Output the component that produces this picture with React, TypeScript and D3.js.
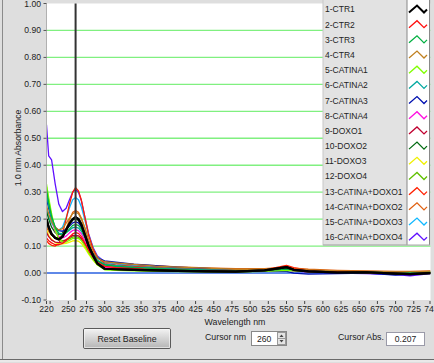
import React from "react";
import * as d3 from "d3";

const wavelengths = [220,223,227,232,237,242,247,252,256,260,264,268,273,278,284,290,300,315,340,370,400,440,480,520,550,560,580,620,660,700,720,748];

const seriesNames = ["1-CTR1","2-CTR2","3-CTR3","4-CTR4","5-CATINA1","6-CATINA2","7-CATINA3","8-CATINA4","9-DOXO1","10-DOXO2","11-DOXO3","12-DOXO4","13-CATINA+DOXO1","14-CATINA+DOXO2","15-CATINA+DOXO3","16-CATINA+DOXO4"];
const seriesColors = ["#000000","#ff1010","#00b040","#c08020","#80ff00","#00a8a0","#0010b0","#ff10e0","#c00030","#006a10","#f0f000","#60c000","#ff2000","#e06010","#10b8ff","#6010ff"];

const ctr1 = [0.20,0.17,0.145,0.13,0.125,0.135,0.16,0.185,0.2,0.207,0.2,0.18,0.14,0.1,0.065,0.035,0.016,0.014,0.012,0.01,0.008,0.006,0.005,0.01,0.022,0.012,0.006,0.002,0.003,-0.002,-0.004,0.0];
const ctr2 = [0.13,0.12,0.112,0.105,0.105,0.11,0.12,0.135,0.145,0.15,0.147,0.135,0.11,0.085,0.06,0.04,0.025,0.02,0.016,0.012,0.01,0.008,0.006,0.01,0.025,0.015,0.008,0.004,0.002,0.0,-0.002,0.001];
const ctr3 = [0.31,0.26,0.21,0.17,0.145,0.14,0.15,0.165,0.177,0.18,0.177,0.163,0.135,0.1,0.068,0.045,0.03,0.025,0.02,0.016,0.013,0.01,0.008,0.01,0.015,0.012,0.008,0.004,0.003,0.001,0.0,0.002];
const ctr4 = [0.25,0.22,0.19,0.17,0.16,0.165,0.185,0.205,0.22,0.225,0.22,0.2,0.165,0.12,0.08,0.055,0.042,0.038,0.032,0.026,0.022,0.018,0.014,0.014,0.02,0.016,0.012,0.008,0.006,0.004,0.004,0.006];
const catina1 = [0.33,0.28,0.22,0.16,0.125,0.115,0.115,0.122,0.128,0.13,0.128,0.12,0.1,0.075,0.05,0.03,0.012,0.01,0.008,0.006,0.005,0.004,0.004,0.006,0.01,0.008,0.005,0.003,0.002,0.0,-0.002,0.0];
const catina2 = [0.29,0.25,0.2,0.165,0.148,0.145,0.15,0.16,0.168,0.17,0.167,0.155,0.13,0.098,0.068,0.047,0.033,0.028,0.022,0.018,0.015,0.012,0.01,0.01,0.014,0.012,0.008,0.005,0.004,0.002,0.001,0.002];
const catina3 = [0.28,0.24,0.2,0.17,0.157,0.155,0.162,0.175,0.186,0.19,0.186,0.17,0.14,0.105,0.075,0.055,0.045,0.04,0.033,0.027,0.022,0.017,0.012,0.008,0.006,0.0,-0.004,-0.002,0.0,-0.008,-0.004,0.0];
const catina4 = [0.3,0.25,0.2,0.155,0.135,0.13,0.137,0.15,0.158,0.16,0.157,0.146,0.12,0.09,0.06,0.038,0.022,0.018,0.014,0.012,0.01,0.01,0.008,0.006,0.012,0.008,0.004,0.002,0.0,0.0,-0.002,0.0];
const doxo1 = [0.15,0.135,0.122,0.115,0.113,0.116,0.124,0.133,0.139,0.14,0.138,0.128,0.105,0.08,0.055,0.036,0.024,0.02,0.016,0.013,0.01,0.008,0.007,0.01,0.02,0.014,0.008,0.004,0.002,0.0,-0.002,0.0];
const doxo2 = [0.23,0.2,0.17,0.15,0.142,0.148,0.165,0.185,0.197,0.2,0.195,0.178,0.145,0.105,0.07,0.045,0.03,0.026,0.02,0.016,0.013,0.01,0.008,0.008,0.012,0.01,0.006,0.004,0.003,0.0,0.002,0.002];
const doxo3 = [0.16,0.14,0.125,0.113,0.108,0.108,0.11,0.115,0.119,0.12,0.118,0.11,0.092,0.07,0.048,0.03,0.018,0.015,0.012,0.01,0.008,0.007,0.006,0.008,0.012,0.01,0.006,0.003,0.002,0.001,0.0,0.002];
const doxo4 = [0.32,0.27,0.21,0.16,0.128,0.12,0.122,0.128,0.133,0.135,0.132,0.124,0.104,0.078,0.052,0.032,0.016,0.013,0.01,0.008,0.007,0.006,0.005,0.006,0.01,0.008,0.005,0.003,0.002,0.0,-0.002,-0.001];
const catDoxo1 = [0.12,0.11,0.103,0.1,0.11,0.145,0.2,0.26,0.3,0.317,0.305,0.27,0.205,0.14,0.09,0.058,0.035,0.03,0.025,0.02,0.016,0.013,0.01,0.012,0.028,0.02,0.01,0.006,0.004,0.002,0.0,0.002];
const catDoxo2 = [0.17,0.155,0.14,0.132,0.13,0.14,0.165,0.2,0.225,0.232,0.225,0.203,0.165,0.12,0.082,0.056,0.042,0.038,0.032,0.027,0.023,0.019,0.016,0.016,0.022,0.018,0.014,0.01,0.008,0.006,0.006,0.008];
const catDoxo3 = [0.24,0.21,0.185,0.165,0.16,0.17,0.205,0.245,0.272,0.28,0.272,0.245,0.195,0.14,0.092,0.06,0.04,0.035,0.028,0.022,0.018,0.014,0.011,0.011,0.015,0.012,0.008,0.004,0.003,0.001,0.0,0.002];
const catDoxo4 = [0.55,0.435,0.42,0.33,0.255,0.228,0.24,0.275,0.3,0.31,0.3,0.268,0.205,0.145,0.095,0.063,0.042,0.036,0.03,0.024,0.02,0.016,0.012,0.01,0.012,0.008,0.004,0.0,-0.002,-0.006,-0.01,-0.002];

const seriesValues = [ctr1,ctr2,ctr3,ctr4,catina1,catina2,catina3,catina4,doxo1,doxo2,doxo3,doxo4,catDoxo1,catDoxo2,catDoxo3,catDoxo4];

const yTicks = [-0.1,0,0.1,0.2,0.3,0.4,0.5,0.6,0.7,0.8,0.9,1.0];
const xDomain = [220, 748];
const xTickMarks = [220,225,250,275,300,325,350,375,400,425,450,475,500,525,550,575,600,625,650,675,700,725];
const xTickLabels = [220,250,275,300,325,350,375,400,425,450,475,500,525,550,575,600,625,650,675,700,725];
const xEndLabel = "740";
const cursorNm = 260;
const cursorAbs = "0.207";

const W = 434, H = 363;
const FONT = "'Liberation Sans', Arial, sans-serif";

export default function App() {
  const left = 46.5, right = 430.5, top = 3.5, bottom = 300;
  const x = d3.scaleLinear().domain(xDomain).range([left, right]);
  const y = d3.scaleLinear().domain([-0.1, 1.0]).range([bottom, top]);
  const line = d3.line<number>().x((_, i) => x(wavelengths[i])).y((v) => y(v));

  const order = d3.range(seriesValues.length).reverse();
  const legX = 323, legR = 430, legSw = 407, legBottom = 245;

  return (
    <svg width={W} height={H} style={{ position: "absolute", left: 0, top: 0, display: "block" }} fontFamily={FONT}>
      <defs>
        <clipPath id="plotClip"><rect x={left} y={top} width={right - left} height={bottom - top} /></clipPath>
        <linearGradient id="btnGrad" x1="0" y1="0" x2="0" y2="1">
          <stop offset="0" stopColor="#f4f4f4" />
          <stop offset="1" stopColor="#b4b4b4" />
        </linearGradient>
      </defs>
      <rect x={0} y={0} width={W} height={H} fill="#dedede" />
      <line x1={2.5} y1={0} x2={2.5} y2={359} stroke="#8a8a8a" />
      <line x1={0} y1={359.5} x2={W} y2={359.5} stroke="#6a6a6a" />
      <line x1={0} y1={361} x2={W} y2={361} stroke="#f4f4f4" />

      {/* plot area */}
      <rect x={left} y={top} width={right - left} height={bottom - top} fill="#ffffff" />
      {yTicks.filter((t) => t > 0 && t < 1).map((t) => (
        <line key={t} x1={left} x2={right} y1={y(t)} y2={y(t)} stroke="#80f080" strokeWidth={1.3} />
      ))}
      <line x1={left} x2={right} y1={y(0)} y2={y(0)} stroke="#2a60e0" strokeWidth={1.6} />

      <g clipPath="url(#plotClip)">
        {order.map((i) => (
          <path key={i} d={line(seriesValues[i]) || ""} fill="none" stroke={seriesColors[i]}
            strokeWidth={i === 0 ? 2.2 : 1.3} strokeLinejoin="round" />
        ))}
        <path d={line(ctr1) || ""} fill="none" stroke="#000" strokeWidth={2.2} strokeLinejoin="round" />
      </g>

      <line x1={x(cursorNm)} x2={x(cursorNm)} y1={top} y2={bottom} stroke="#333333" strokeWidth={2} />
      <line x1={left} x2={left} y1={top} y2={bottom} stroke="#b0b0b0" />

      {/* y axis */}
      {yTicks.map((t) => (
        <g key={t}>
          <line x1={left - 3} x2={left} y1={y(t)} y2={y(t)} stroke="#555" />
          <text x={41} y={y(t)} dy="0.35em" textAnchor="end" fontSize={8.6} fill="#222">{t.toFixed(2)}</text>
        </g>
      ))}
      <text transform={`translate(18,${148}) rotate(-90)`} textAnchor="middle" dy="0.35em" fontSize={8.6} fill="#222">1.0 mm Absorbance</text>

      {/* x axis */}
      {xTickMarks.map((t) => (
        <line key={t} x1={x(t)} x2={x(t)} y1={bottom + 1} y2={bottom + 4} stroke="#444" />
      ))}
      <line x1={right - 0.5} x2={right - 0.5} y1={bottom + 1} y2={bottom + 4} stroke="#444" />
      {xTickLabels.map((t) => (
        <text key={t} x={x(t)} y={312} textAnchor="middle" fontSize={8.6} fill="#222">{t}</text>
      ))}
      <text x={right + 1} y={312} textAnchor="middle" fontSize={8.6} fill="#222">{xEndLabel}</text>
      <text x={235} y={325} textAnchor="middle" fontSize={8.8} fill="#222">Wavelength nm</text>

      {/* legend */}
      <rect x={legX} y={-1} width={legR - legX} height={legBottom + 1} fill="#e2e2e2" stroke="#c8c8c8" />
      <rect x={legSw} y={-1} width={legR - legSw} height={legBottom + 1} fill="#ffffff" />
      <line x1={legSw} x2={legSw} y1={0} y2={legBottom} stroke="#888" />
      <line x1={legR - 0.5} x2={legR - 0.5} y1={0} y2={legBottom} stroke="#888" />
      <line x1={legX} x2={legR} y1={legBottom} y2={legBottom} stroke="#aaa" />
      {seriesNames.map((n, i) => {
        const cy = 9.5 + i * 15.18;
        const sx = 409;
        return (
          <g key={n}>
            <text x={legX + 2} y={cy} dy="0.35em" fontSize={8.5} fill="#222">{n}</text>
            <path d={`M${sx},${cy + 3} L${sx + 8},${cy - 4} L${sx + 15},${cy + 3} L${sx + 18},${cy}`} fill="none"
              stroke={seriesColors[i]} strokeWidth={i === 0 ? 2 : 1.3} />
          </g>
        );
      })}

      {/* controls */}
      <rect x={83.5} y={328.5} width={87} height={20} rx={1.5} fill="url(#btnGrad)" stroke="#5a5a5a" />
      <rect x={84.5} y={329.5} width={85} height={18} fill="none" stroke="#fafafa" strokeOpacity={0.6} />
      <text x={127} y={338.5} dy="0.35em" textAnchor="middle" fontSize={8.8} fill="#222">Reset Baseline</text>

      <text x={205} y={336.5} dy="0.35em" fontSize={8.8} fill="#222">Cursor nm</text>
      <rect x={251.5} y={331.5} width={35} height={14} fill="#ffffff" stroke="#888" />
      <text x={257} y={338.5} dy="0.35em" fontSize={8.6} fill="#222">{cursorNm}</text>
      <rect x={277.5} y={332.5} width={8} height={12} fill="#e4e4e4" stroke="#999" />
      <line x1={277.5} x2={285.5} y1={338.5} y2={338.5} stroke="#999" />
      <path d="M279.5,337 L281.5,334.5 L283.5,337 Z" fill="#444" />
      <path d="M279.5,340 L281.5,342.5 L283.5,340 Z" fill="#444" />

      <text x={338} y={337} dy="0.35em" fontSize={8.8} fill="#222">Cursor Abs.</text>
      <rect x={386.5} y={332.5} width={38} height={13} fill="#ffffff" stroke="#9a9aa8" />
      <text x={405.5} y={339} dy="0.35em" textAnchor="middle" fontSize={8.6} fill="#222">{cursorAbs}</text>
    </svg>
  );
}
